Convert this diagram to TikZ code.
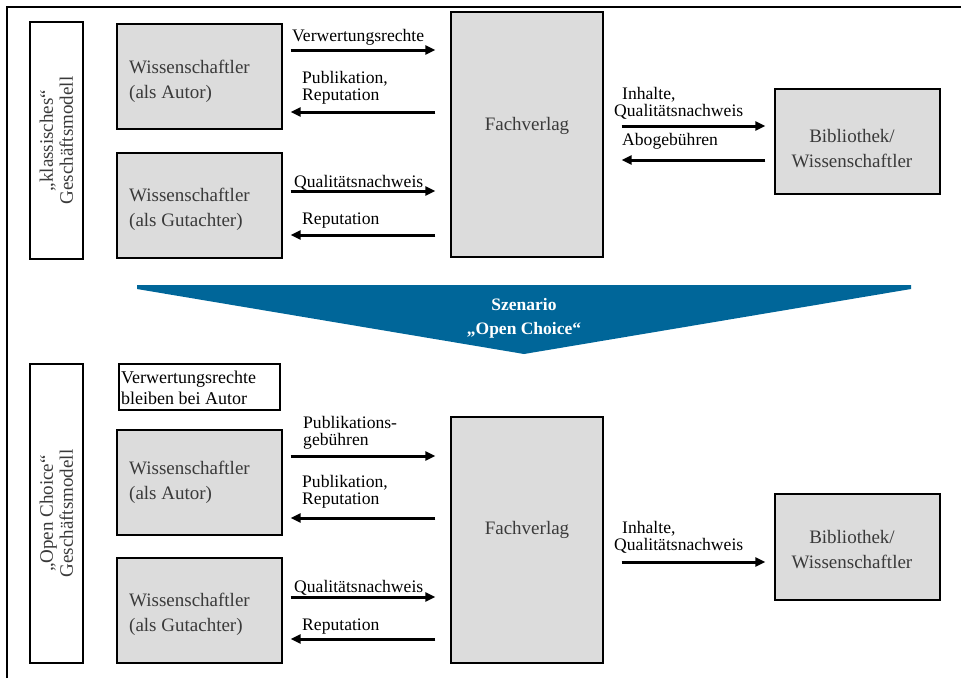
\documentclass[tikz,border=0pt]{standalone}
\usepackage{fontspec}
\setmainfont{Liberation Serif}
\usetikzlibrary{arrows.meta}
\definecolor{boxgray}{HTML}{DCDCDC}
\definecolor{txtgray}{HTML}{3A3A3A}
\definecolor{bannerblue}{HTML}{006699}
\begin{document}
\begin{tikzpicture}[x=1pt,y=-1pt,
  actor/.style={draw=black, line width=1.3pt, fill=boxgray, inner sep=0pt},
  btext/.style={text=txtgray, font=\fontsize{19}{25}\selectfont, inner sep=0pt},
  sidebox/.style={draw=black, line width=1.3pt, fill=white, rotate=90, inner sep=0pt,
    minimum height=53pt, text=txtgray, align=center, font=\fontsize{19}{20}\selectfont},
  lbl/.style={text=black, font=\fontsize{17.6}{17}\selectfont, inner sep=0pt, anchor=west, align=left},
  arr/.style={line width=3pt, -{Triangle[length=10pt,width=9pt]}},
  frameline/.style={line width=2pt}
]
\useasboundingbox (0,0) rectangle (961,678);
\draw[frameline] (7,678) -- (7,7) -- (961,7);

% ---------- upper part ----------
\node[sidebox, minimum width=237pt] (lab1) at (56.5,140.5) {„klassisches“\\Geschäftsmodell};
\node[actor, minimum width=165pt, minimum height=105pt] (a1) at (199.5,76.5) {};
\node[btext, anchor=west, align=left] (a1t) at (129,81.5) {Wissenschaftler\\(als Autor)};
\node[actor, minimum width=165pt, minimum height=105pt] (g1) at (199.5,205.5) {};
\node[btext, anchor=west, align=left] (g1t) at (129,209.5) {Wissenschaftler\\(als Gutachter)};
\node[actor, minimum width=152pt, minimum height=245pt] (f1) at (527,134.5) {};
\node[btext] (f1t) at (527,126) {Fachverlag};
\node[actor, minimum width=165pt, minimum height=105pt] (b1) at (857.5,141.5) {};
\node[btext, align=center] (b1t) at (852,148.5) {Bibliothek/\\Wissenschaftler};

\node[lbl] (l1) at (292,37) {Verwertungsrechte};
\node[lbl] (l2) at (302,88) {Publikation,\\Reputation};
\node[lbl] (l3) at (294,183) {Qualitätsnachweis};
\node[lbl] (l4) at (302,221) {Reputation};
\node[lbl] (l5) at (614,103) {\hspace*{8pt}Inhalte,\\Qualitätsnachweis};
\node[lbl] (l6) at (622,141) {Abogebühren};

\draw[arr, shorten <=8pt, shorten >=15pt] (a1.east |- 0,50) -- (f1.west |- 0,50);
\draw[arr, shorten <=15pt, shorten >=8pt] (f1.west |- 0,112) -- (a1.east |- 0,112);
\draw[arr, shorten <=8pt, shorten >=15pt] (g1.east |- 0,191) -- (f1.west |- 0,191);
\draw[arr, shorten <=15pt, shorten >=8pt] (f1.west |- 0,235) -- (g1.east |- 0,235);
\draw[arr, shorten <=18pt, shorten >=9pt] (f1.east |- 0,126) -- (b1.west |- 0,126);
\draw[arr, shorten <=9pt, shorten >=18pt] (b1.west |- 0,160) -- (f1.east |- 0,160);

% ---------- banner ----------
\fill[bannerblue] (137,285) -- (911,285) -- (911,289) -- (524,354) -- (137,289) -- cycle;
\node[text=white, font=\bfseries\fontsize{17.5}{24}\selectfont, align=center, inner sep=0pt] (sz) at (524,318) {Szenario\\„Open Choice“};

% ---------- lower part ----------
\node[sidebox, minimum width=299pt] (lab2) at (56.5,513.5) {„Open Choice“\\Geschäftsmodell};
\node[draw=black, line width=1.2pt, fill=white, minimum width=161pt, minimum height=46pt, inner sep=0pt] (vr) at (199.5,387) {};
\node[text=black, font=\fontsize{18}{21}\selectfont, align=left, anchor=west, inner sep=0pt] (vrt) at (121,387.5) {Verwertungsrechte\\bleiben bei Autor};
\node[actor, minimum width=165pt, minimum height=105pt] (a2) at (199.5,482.5) {};
\node[btext, anchor=west, align=left] (a2t) at (129,482.5) {Wissenschaftler\\(als Autor)};
\node[actor, minimum width=165pt, minimum height=105pt] (g2) at (199.5,610.5) {};
\node[btext, anchor=west, align=left] (g2t) at (129,614) {Wissenschaftler\\(als Gutachter)};
\node[actor, minimum width=152pt, minimum height=246pt] (f2) at (527,540) {};
\node[btext] (f2t) at (527,530) {Fachverlag};
\node[actor, minimum width=165pt, minimum height=106pt] (b2) at (857.5,547) {};
\node[btext, align=center] (b2t) at (852,549.5) {Bibliothek/\\Wissenschaftler};

\node[lbl] (m1) at (303,433) {Publikations-\\gebühren};
\node[lbl] (m2) at (302,492) {Publikation,\\Reputation};
\node[lbl] (m3) at (294,588) {Qualitätsnachweis};
\node[lbl] (m4) at (302,627) {Reputation};
\node[lbl] (m5) at (614,537) {\hspace*{8pt}Inhalte,\\Qualitätsnachweis};

\draw[arr, shorten <=8pt, shorten >=15pt] (a2.east |- 0,456) -- (f2.west |- 0,456);
\draw[arr, shorten <=15pt, shorten >=8pt] (f2.west |- 0,518) -- (a2.east |- 0,518);
\draw[arr, shorten <=8pt, shorten >=15pt] (g2.east |- 0,597) -- (f2.west |- 0,597);
\draw[arr, shorten <=15pt, shorten >=8pt] (f2.west |- 0,639) -- (g2.east |- 0,639);
\draw[arr, shorten <=18pt, shorten >=9pt] (f2.east |- 0,562) -- (b2.west |- 0,562);
\end{tikzpicture}
\end{document}
